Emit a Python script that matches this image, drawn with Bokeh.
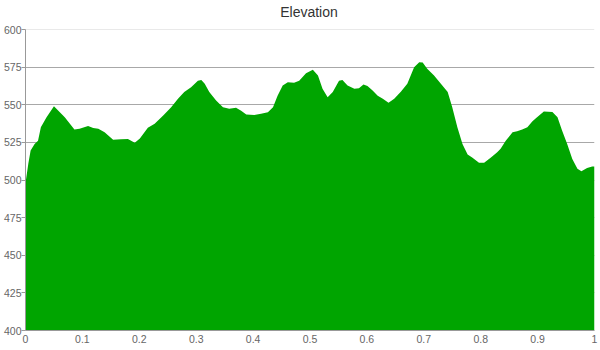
from bokeh.plotting import figure
from bokeh.models import FixedTicker, Span, Range1d, Div
from bokeh.layouts import column
from bokeh.embed import file_html
from bokeh.resources import INLINE

TITLE = "Elevation"

distance = [0.000, 0.005, 0.009, 0.016, 0.022, 0.027, 0.037, 0.050, 0.069, 0.086,
            0.095, 0.110, 0.119, 0.128, 0.139, 0.154, 0.168, 0.180, 0.192, 0.201,
            0.215, 0.227, 0.242, 0.256, 0.268, 0.279, 0.291, 0.303, 0.309, 0.315,
            0.323, 0.335, 0.347, 0.358, 0.370, 0.379, 0.388, 0.402, 0.414, 0.426,
            0.435, 0.443, 0.452, 0.461, 0.472, 0.481, 0.493, 0.505, 0.514, 0.522,
            0.531, 0.540, 0.551, 0.557, 0.566, 0.578, 0.586, 0.594, 0.601, 0.610,
            0.619, 0.628, 0.638, 0.648, 0.660, 0.671, 0.683, 0.692, 0.698, 0.706,
            0.718, 0.730, 0.742, 0.750, 0.759, 0.768, 0.777, 0.785, 0.797, 0.806,
            0.818, 0.829, 0.835, 0.844, 0.856, 0.864, 0.873, 0.882, 0.891, 0.899,
            0.911, 0.926, 0.935, 0.943, 0.952, 0.961, 0.970, 0.977, 0.987, 0.996,
            1.000]

elevation = [498.0, 511.0, 519.6, 524.0, 526.0, 535.0, 541.7, 549.0, 541.7, 533.6,
             534.0, 535.8, 534.5, 534.0, 531.8, 526.7, 527.0, 527.3, 524.7, 527.5,
             534.7, 537.3, 542.9, 548.4, 554.0, 558.4, 561.7, 566.0, 566.5, 564.0,
             558.4, 552.8, 548.4, 547.3, 548.0, 546.0, 543.5, 543.2, 544.0, 545.0,
             548.4, 556.0, 562.8, 565.0, 564.6, 566.0, 571.0, 573.2, 569.5, 560.6,
             555.0, 558.4, 566.0, 566.5, 562.8, 560.6, 561.0, 563.5, 562.4, 559.5,
             556.0, 554.0, 551.3, 554.0, 558.8, 564.0, 575.0, 578.3, 578.0, 573.9,
             569.4, 564.0, 558.4, 548.4, 535.0, 524.0, 517.0, 515.0, 511.4, 511.4,
             515.0, 518.5, 520.7, 526.0, 531.8, 532.4, 533.6, 535.0, 539.0, 541.7,
             545.5, 545.2, 541.7, 532.9, 524.0, 514.0, 507.4, 505.8, 508.0, 509.0,
             509.0]

x_ticks = [0, 0.1, 0.2, 0.3, 0.4, 0.5, 0.6, 0.7, 0.8, 0.9, 1]
x_tick_labels = ["0", "0.1", "0.2", "0.3", "0.4", "0.5", "0.6", "0.7", "0.8", "0.9", "1"]
y_ticks = [400, 425, 450, 475, 500, 525, 550, 575, 600]
Y_MIN, Y_MAX = 400, 600

FONT = "Liberation Sans"

title_div = Div(text=TITLE, width=570, height=22, margin=(0, 6, 0, 24),
                styles={"font-family": FONT, "font-size": "14px", "color": "#333333",
                        "text-align": "center", "line-height": "16px",
                        "padding-top": "4px", "box-sizing": "border-box",
                        "background-color": "white"})

p = figure(width=600, height=328, output_backend="svg", toolbar_location=None,
           x_range=Range1d(0, 1), y_range=Range1d(Y_MIN, Y_MAX),
           min_border_left=24, min_border_right=6, min_border_top=7,
           min_border_bottom=20, margin=0)
p.outline_line_color = None
p.background_fill_color = "white"
p.border_fill_color = "white"

p.varea(x=distance, y1=[Y_MIN] * len(distance), y2=elevation,
        fill_color="#00a500", fill_alpha=1.0)

p.xgrid.visible = False
p.ygrid.ticker = FixedTicker(ticks=y_ticks[1:-1])
p.ygrid.grid_line_color = "#a8a8a8"
p.ygrid.grid_line_width = 1
p.ygrid.level = "underlay"
p.add_layout(Span(location=Y_MAX, dimension="width", line_color="#d4d4d4", line_width=1,
                  level="underlay"))

p.xaxis.ticker = FixedTicker(ticks=x_ticks)
p.xaxis.major_label_overrides = {t: l for t, l in zip(x_ticks, x_tick_labels)}
p.xaxis.major_tick_out = 0
p.xaxis.major_tick_in = 0
p.xaxis.minor_tick_out = 0
p.xaxis.minor_tick_in = 0
p.xaxis.axis_line_color = "#999999"
p.xaxis.major_label_standoff = 4

p.yaxis.ticker = FixedTicker(ticks=y_ticks)
p.yaxis.major_tick_out = 4
p.yaxis.major_tick_in = 0
p.yaxis.minor_tick_out = 0
p.yaxis.minor_tick_in = 0
p.yaxis.major_tick_line_color = "#999999"
p.yaxis.axis_line_color = "#999999"
p.yaxis.major_label_standoff = 0

for ax in (p.xaxis, p.yaxis):
    ax.major_label_text_font = FONT
    ax.major_label_text_font_size = "10.5px"
    ax.major_label_text_color = "#666666"

layout = column(title_div, p, spacing=0)

open("out.html", "w").write(file_html(layout, INLINE))
